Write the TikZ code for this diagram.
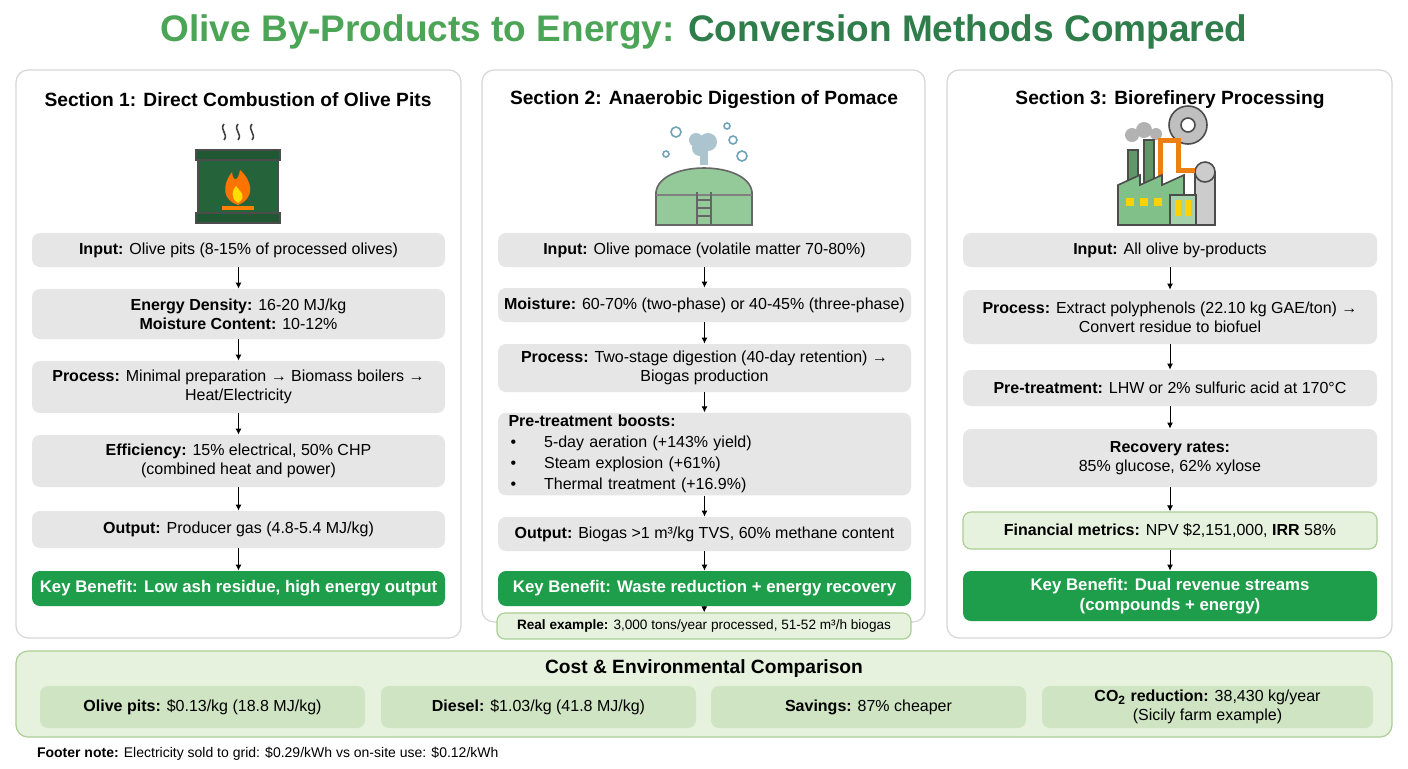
\documentclass[tikz,border=0pt]{standalone}
\usepackage{fontspec}
\usetikzlibrary{arrows.meta}
\setmainfont{Liberation Sans}
\definecolor{tg1}{HTML}{4CA556}
\definecolor{tg2}{HTML}{2E7D4A}
\definecolor{boxg}{HTML}{E6E6E6}
\definecolor{keyg}{HTML}{1E9E4A}
\definecolor{lg}{HTML}{E6F1DE}
\definecolor{lgb}{HTML}{A9CF95}
\definecolor{cb}{HTML}{CFE4C2}
\definecolor{pb}{HTML}{D6D6D6}
\begin{document}
\begin{tikzpicture}[x=0.5pt,y=-0.5pt,
 panel/.style={draw=pb,fill=white,rounded corners=6pt,line width=0.6pt},
 gb/.style={fill=boxg,rounded corners=4pt,align=center,font=\fontsize{8}{9.6}\selectfont,inner sep=1pt},
 kb/.style={fill=keyg,rounded corners=4pt,align=center,text=white,font=\fontsize{8.4}{10}\selectfont\bfseries,inner sep=1pt},
 fb/.style={fill=lg,draw=lgb,line width=0.6pt,rounded corners=4pt,align=center,font=\fontsize{8}{9.6}\selectfont,inner sep=1pt},
 cbx/.style={fill=cb,rounded corners=4pt,align=center,font=\fontsize{8}{9.6}\selectfont,inner sep=1pt,minimum height=21pt},
 st/.style={font=\fontsize{9.6}{11}\selectfont\bfseries},
 ar/.style={-{Latex[length=3pt,width=3pt]},line width=0.5pt}]
\useasboundingbox (0,0) rectangle (1408,768);
\fill[white] (0,0) rectangle (1408,768);
\node (title) at (704,32) {\fontsize{18.5}{22}\selectfont\bfseries\textcolor{tg1}{Olive By-Products to Energy:} \textcolor{tg2}{Conversion Methods Compared}};
% panels
\draw[panel] (16,70) rectangle (461,638);
\draw[panel] (482,70) rectangle (925,622);
\draw[panel] (947,70) rectangle (1392,638);
\node[st] (s1) at (238,100) {Section 1: Direct Combustion of Olive Pits};
\node[st] (s2) at (704,100) {Section 2: Anaerobic Digestion of Pomace};
\node[st] (s3) at (1170,100) {Section 3: Biorefinery Processing};
% icon 1
\begin{scope}[line width=0.8pt]
\foreach \xx in {224,238,252}{\draw[black!75] (\xx,124) .. controls (\xx-5,130) and (\xx+5,134) .. (\xx,140);}
\draw[fill=tg2!80!black,draw=black!70] (198,150) rectangle (278,223);
\draw[fill=tg2!70!black,draw=black!70] (196,150) rectangle (280,160);
\draw[fill=tg2!70!black,draw=black!70] (196,213) rectangle (280,223);
\fill[orange!90!red] (238,205) .. controls (222,200) and (222,185) .. (232,172) .. controls (233,182) and (238,182) .. (240,170) .. controls (252,180) and (256,198) .. (238,205);
\fill[yellow!80!orange] (238,203) .. controls (230,198) and (232,190) .. (236,186) .. controls (240,192) and (248,196) .. (238,203);
\fill[orange] (222,206) rectangle (254,210);
\end{scope}
% icon 2
\begin{scope}[line width=0.8pt]
\draw[fill=tg1!60,draw=black!60] (656,225) -- (656,192) .. controls (660,160) and (748,160) .. (752,192) -- (752,225) -- cycle;
\draw[draw=black!50] (656,195) -- (752,195);
\draw[black!60] (697,192) -- (697,225) (711,192) -- (711,225);
\foreach \yy in {200,208,216}{\draw[black!60] (697,\yy) -- (711,\yy);}
\fill[cyan!30!gray!60] (700,148) circle (8) (708,142) circle (9) (696,140) circle (7);
\fill[cyan!30!gray!60] (700,165) rectangle (708,150);
\foreach \p/\r in {{676,132}/5,{733,140}/4,{742,156}/5,{666,154}/3,{727,126}/3}{\draw[cyan!40!gray] (\p) circle (\r);}
\end{scope}
% icon 3
\begin{scope}[line width=0.8pt]
\fill[gray!60] (1132,135) circle (7) (1144,130) circle (8) (1156,134) circle (6);
\draw[fill=tg1!60!gray,draw=black!70] (1128,150) rectangle (1138,225);
\draw[fill=tg1!60!gray,draw=black!70] (1144,140) rectangle (1154,225);
\draw[fill=gray!50,draw=black!70] (1188,125) circle (19);
\draw[fill=white,draw=black!70] (1188,125) circle (7);
\draw[fill=gray!40,draw=black!70] (1195,172) rectangle (1215,225);
\draw[fill=gray!40,draw=black!70] (1205,172) circle (10);
\draw[orange!70!brown,line width=2.5pt] (1160,200) -- (1160,140) -- (1178,140) -- (1178,170) -- (1195,170);
\draw[fill=tg1!70,draw=black!70] (1118,225) -- (1118,185) -- (1140,175) -- (1140,185) -- (1162,175) -- (1162,185) -- (1184,175) -- (1184,225) -- cycle;
\draw[fill=tg1!50,draw=black!70] (1170,195) rectangle (1196,225);
\foreach \xx in {1126,1140,1154}{\fill[yellow!70!orange] (\xx,198) rectangle +(8,8);}
\foreach \xx in {1175,1185}{\fill[yellow!70!orange] (\xx,200) rectangle +(6,16);}
\end{scope}
% panel 1 boxes
\node[gb,minimum width=206.5pt,minimum height=17pt] (a1) at (238.5,250) {\textbf{Input:} Olive pits (8-15\% of processed olives)};
\node[gb,minimum width=206.5pt,minimum height=25pt] (a2) at (238.5,314) {\textbf{Energy Density:} 16-20 MJ/kg\\\textbf{Moisture Content:} 10-12\%};
\node[gb,minimum width=206.5pt,minimum height=26pt] (a3) at (238.5,387) {\textbf{Process:} Minimal preparation → Biomass boilers →\\Heat/Electricity};
\node[gb,minimum width=206.5pt,minimum height=26pt] (a4) at (238.5,461) {\textbf{Efficiency:} 15\% electrical, 50\% CHP\\(combined heat and power)};
\node[gb,minimum width=206.5pt,minimum height=18.5pt] (a5) at (238.5,529.5) {\textbf{Output:} Producer gas (4.8-5.4 MJ/kg)};
\node[kb,minimum width=206.5pt,minimum height=17.5pt] (a6) at (238.5,588.5) {Key Benefit: Low ash residue, high energy output};
\foreach \a/\b in {a1/a2,a2/a3,a3/a4,a4/a5,a5/a6}{\draw[ar] (\a) -- (\b);}
% panel 2 boxes
\node[gb,minimum width=206.5pt,minimum height=17pt] (b1) at (704.5,250) {\textbf{Input:} Olive pomace (volatile matter 70-80\%)};
\node[gb,minimum width=206.5pt,minimum height=17pt] (b2) at (704.5,305) {\textbf{Moisture:} 60-70\% (two-phase) or 40-45\% (three-phase)};
\node[gb,minimum width=206.5pt,minimum height=24pt] (b3) at (704.5,368) {\textbf{Process:} Two-stage digestion (40-day retention) →\\Biogas production};
\node[gb,minimum width=206.5pt,minimum height=41pt,align=left,text width=196pt] (b4) at (704.5,454) {\textbf{Pre-treatment boosts:}\\[1pt]
\hspace*{1pt}•\hspace{14pt}5-day aeration (+143\% yield)\\[1pt]
\hspace*{1pt}•\hspace{14pt}Steam explosion (+61\%)\\[1pt]
\hspace*{1pt}•\hspace{14pt}Thermal treatment (+16.9\%)};
\node[gb,minimum width=206.5pt,minimum height=17pt] (b5) at (704.5,534) {\textbf{Output:} Biogas >1 m³/kg TVS, 60\% methane content};
\node[kb,minimum width=206.5pt,minimum height=17.5pt] (b6) at (704.5,588.5) {Key Benefit: Waste reduction + energy recovery};
\node[fb,minimum width=207pt,minimum height=13pt,font=\fontsize{6.8}{8}\selectfont] (b7) at (704,626) {\textbf{Real example:} 3,000 tons/year processed, 51-52 m³/h biogas};
\foreach \a/\b in {b1/b2,b2/b3,b3/b4,b4/b5,b5/b6,b6/b7}{\draw[ar] (\a) -- (\b);}
% panel 3 boxes
\node[gb,minimum width=207pt,minimum height=17pt] (c1) at (1170,250) {\textbf{Input:} All olive by-products};
\node[gb,minimum width=207pt,minimum height=27pt] (c2) at (1170,317) {\textbf{Process:} Extract polyphenols (22.10 kg GAE/ton) →\\Convert residue to biofuel};
\node[gb,minimum width=207pt,minimum height=18pt] (c3) at (1170,388) {\textbf{Pre-treatment:} LHW or 2\% sulfuric acid at 170°C};
\node[gb,minimum width=207pt,minimum height=29pt] (c4) at (1170,458) {\textbf{Recovery rates:}\\85\% glucose, 62\% xylose};
\node[fb,minimum width=207pt,minimum height=18.5pt] (c5) at (1170,530.5) {\textbf{Financial metrics:} NPV \$2,151,000, \textbf{IRR} 58\%};
\node[kb,minimum width=207pt,minimum height=25pt] (c6) at (1170,596) {Key Benefit: Dual revenue streams\\(compounds + energy)};
\foreach \a/\b in {c1/c2,c2/c3,c3/c4,c4/c5,c5/c6}{\draw[ar] (\a) -- (\b);}
% bottom
\draw[fill=lg,draw=lgb,line width=0.6pt,rounded corners=6pt] (16,651) rectangle (1392,737);
\node[st] (ct) at (704,669) {Cost \& Environmental Comparison};
\node[cbx,minimum width=162.5pt] (d1) at (202.5,707) {\textbf{Olive pits:} \$0.13/kg (18.8 MJ/kg)};
\node[cbx,minimum width=157.5pt] (d2) at (538.5,707) {\textbf{Diesel:} \$1.03/kg (41.8 MJ/kg)};
\node[cbx,minimum width=157.5pt] (d3) at (868.5,707) {\textbf{Savings:} 87\% cheaper};
\node[cbx,minimum width=165.5pt] (d4) at (1207.5,707) {\textbf{CO\textsubscript{2} reduction:} 38,430 kg/year\\(Sicily farm example)};
\node[anchor=west,font=\fontsize{7}{8}\selectfont] (ft) at (30,754) {\textbf{Footer note:} Electricity sold to grid: \$0.29/kWh vs on-site use: \$0.12/kWh};
\end{tikzpicture}
\end{document}
